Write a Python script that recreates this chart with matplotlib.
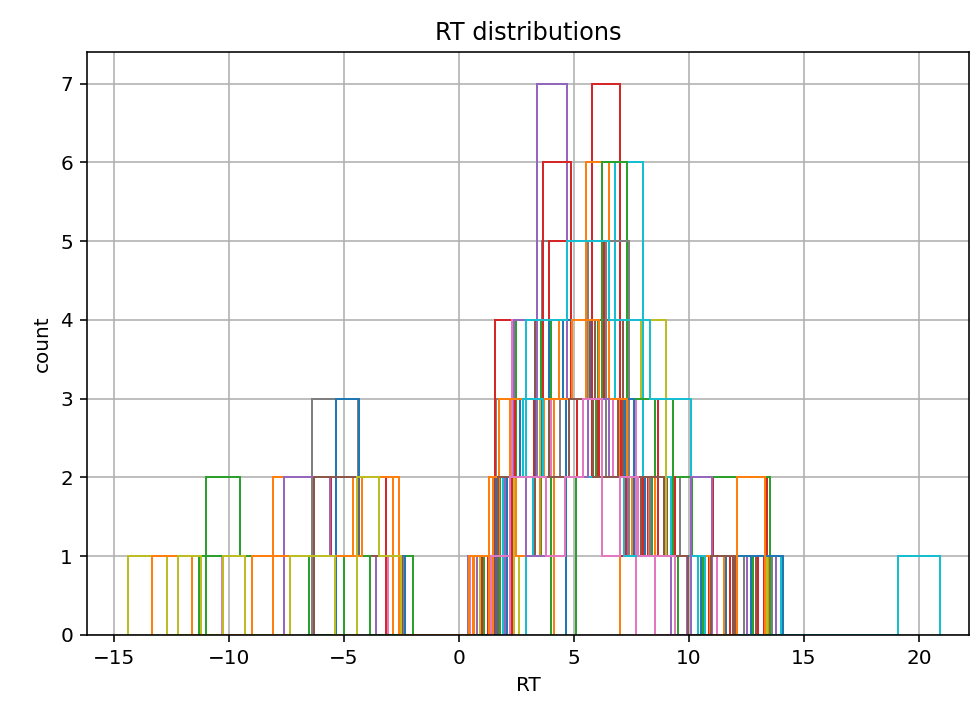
import matplotlib
matplotlib.use("Agg")
import matplotlib.pyplot as plt

# Per-series RT samples; each is drawn as a 10-bin step histogram
n01 = [-14.4, -10.5, -9.0, -6.5, -4.6, -3.0, 2.6]
n02 = [-13.35, -8.05, -7.0, -5.5, -3.9, -3.2, 1.9, 2.9, 3.4, 4.15]
n03 = [-11.0, -10.1, -8.9, -7.0, -4.2, -2.8, 2.2, 2.9, 3.3, 3.6, 4.0]
n04 = [-6.4, -5.8, -5.0, -3.1, 1.9, 2.5, 3.0, 3.8, 4.3, 4.7, 5.0, 5.4, 5.9, 6.4, 7.0, 8.1, 9.0, 10.2, 13.6]
n05 = [-10.3, -6.5, -5.0, -4.4, 2.0, 2.6, 3.1, 3.6, 4.3, 4.8, 5.2, 5.7, 6.1, 6.8, 7.4, 8.2, 9.5, 11.9, 13.4]
n06 = [-5.35, -5.0, -4.6, -3.9, -2.9, 1.8, 2.3, 2.8, 3.1, 3.4, 3.8, 4.1, 4.65]
n07 = [-10.3, -7.5, -5.6, -4.0, 1.9, 2.6, 3.0, 3.5, 3.9, 4.4, 4.8, 5.1, 5.5, 6.2, 6.9, 7.7]
n08 = [-7.6, -6.5, -4.5, 2.0, 2.6, 3.0, 3.4, 3.9, 4.6, 5.0, 5.5, 6.0, 6.7, 7.3, 9.0, 12.4]
n09 = [-6.3, -5.2, -3.5, 2.7, 3.6, 4.1, 4.6, 5.0, 5.4, 5.9, 6.4, 6.9, 7.6, 8.5, 10.1, 12.9]
n10 = [-11.3, -7.5, -5.0, 3.0, 3.8, 4.4, 4.9, 5.5, 6.4, 7.0, 7.8, 9.3, 10.5, 11.6, 13.5]
n11 = [-9.0, -6.9, -5.0, -3.8, -3.0, 1.3, 2.6, 3.1, 3.5, 4.2, 4.6, 5.0, 5.8, 6.4, 7.0]
n12 = [-12.2, -9.3, -7.2, -5.9, -4.4, -3.6, -2.5]
p01 = [1.0, 2.5, 3.1, 3.9, 4.3, 4.8, 5.2, 5.9, 6.0, 6.2, 6.4, 6.5, 6.7, 6.9, 7.5, 8.3, 9.0, 10.3, 11.4, 13.0]
p02 = [0.8, 2.4, 3.0, 3.5, 3.7, 3.9, 4.1, 4.3, 4.5, 4.6, 4.9, 5.4, 5.8, 6.3, 6.9, 7.7, 9.2, 13.8]
p03 = [2.0, 3.5, 4.0, 4.6, 5.0, 5.3, 5.8, 6.2, 6.5, 6.9, 7.1, 7.3, 7.5, 7.7, 7.9, 8.5, 9.0, 9.8, 14.0]
p04 = [1.25, 2.6, 3.0, 3.3, 3.7, 3.9, 4.1, 4.3, 4.5, 4.7, 5.0, 5.4, 5.8, 6.3, 6.8, 7.6, 9.0, 10.2, 13.25]
p05 = [1.5, 2.2, 2.8, 3.6, 3.9, 4.2, 4.6, 4.8, 5.1, 5.6, 5.8, 6.0, 6.1, 6.3, 6.4, 6.7, 7.2, 7.8, 8.9, 9.7, 11.5]
p06 = [1.8, 2.4, 3.0, 3.5, 4.1, 4.6, 5.0, 5.3, 5.7, 6.0, 6.3, 6.5, 6.7, 6.9, 7.1, 7.2, 7.5, 8.0, 8.8, 11.0, 12.8]
p07 = [2.4, 2.9, 3.6, 4.0, 4.5, 4.8, 5.2, 5.6, 6.0, 6.5, 6.7, 6.9, 7.1, 7.3, 7.8, 8.6, 9.5, 10.8, 12.4]
p08 = [1.7, 2.2, 3.0, 3.4, 3.95, 4.0, 4.4, 4.8, 5.05, 5.2, 5.4, 5.8, 6.2, 6.6, 6.9, 7.5, 8.1, 9.3, 10.0, 12.7]
p09 = [0.45, 2.0, 2.6, 2.9, 3.3, 3.8, 4.1, 4.5, 4.9, 5.2, 5.5, 5.8, 6.2, 6.6, 7.3, 7.9, 8.9, 10.1, 11.3, 13.45]
p10 = [2.4, 3.0, 3.6, 4.0, 4.4, 4.8, 5.2, 5.5, 5.9, 6.3, 6.6, 7.0, 7.4, 7.7, 8.0, 8.3, 8.6, 8.9, 9.5, 10.6, 11.8, 13.4]
p11 = [5.1, 5.5, 6.0, 6.4, 6.7, 6.9, 7.2, 7.5, 7.7, 8.0, 8.3, 8.6, 8.9, 9.2, 9.8, 10.5, 10.9, 11.4, 11.7, 12.0, 12.4, 13.0, 13.5]
p12 = [2.1, 2.8, 3.4, 3.8, 4.2, 4.6, 5.0, 5.3, 5.6, 5.9, 6.3, 6.7, 7.1, 7.6, 8.5, 9.9, 11.0, 12.3, 14.1]
p13 = [2.9, 3.5, 4.0, 4.3, 4.8, 5.0, 5.4, 5.9, 6.2, 6.6, 6.9, 7.3, 7.7, 8.5, 9.0, 9.8, 11.2, 20.9]
p14 = [1.9, 2.3, 3.1, 3.5, 4.0, 4.3, 4.7, 5.0, 5.3, 5.6, 5.8, 6.1, 6.5, 6.8, 7.2, 7.6, 8.4, 9.5, 10.7, 11.9]
p15 = [2.2, 2.6, 3.2, 3.6, 4.05, 4.3, 4.8, 5.0, 5.3, 5.7, 5.9, 6.2, 6.6, 7.0, 7.4, 7.8, 8.45, 9.6, 11.2]
p16 = [1.6, 2.1, 2.7, 3.2, 3.7, 4.0, 4.3, 4.7, 5.0, 5.4, 5.7, 6.0, 6.3, 6.65, 7.0, 7.4, 7.9, 8.7, 9.9, 11.6]
p17 = [2.3, 2.9, 3.4, 3.8, 4.1, 4.4, 4.8, 5.1, 5.5, 5.8, 6.1, 6.4, 6.9, 7.3, 7.8, 8.6, 9.4, 10.5, 11.8]
p18 = [1.3, 2.4, 2.9, 3.3, 3.9, 4.2, 4.6, 4.9, 5.3, 5.6, 6.0, 6.3, 6.8, 7.1, 7.5, 8.2, 9.1, 10.4, 12.1, 13.3]
p19 = [1.9, 2.5, 2.9, 3.3, 3.6, 4.0, 4.3, 4.7, 5.1, 5.5, 6.0, 6.5, 7.0, 7.6, 8.3, 9.3, 10.7]
p20 = [2.0, 2.7, 3.3, 3.9, 4.4, 4.9, 5.2, 5.6, 5.9, 6.2, 6.6, 7.0, 7.5, 8.1, 8.8, 10.2, 11.0]
p21 = [1.7, 2.4, 3.0, 3.7, 4.1, 4.5, 4.9, 5.4, 5.7, 6.1, 6.5, 6.9, 7.4, 8.0, 8.9, 9.8, 12.0]
p22 = [1.4, 2.3, 2.8, 3.2, 3.7, 4.2, 4.6, 5.0, 5.4, 5.8, 6.1, 6.5, 7.0, 7.3, 8.3, 9.4]

series = [n01, n02, n03, n04, n05, n06, n07, n08, n09, n10, n11, n12,
          p01, p02, p03, p04, p05, p06, p07, p08, p09, p10, p11, p12, p13, p14, p15,
          p16, p17, p18, p19, p20, p21, p22]

# line colours (style only), one per series
series_colors = ["C8", "C1", "C2", "C7", "C3", "C0", "C6", "C4", "C5", "C2", "C1", "C8",
                 "C3", "C4", "C9", "C3", "C1", "C2", "C7", "C0", "C1", "C8", "C2", "C0", "C9", "C5", "C6",
                 "C0", "C3", "C1", "C9", "C4", "C5", "C6"]

x_ticks = [-15, -10, -5, 0, 5, 10, 15, 20]
y_ticks = [0, 1, 2, 3, 4, 5, 6, 7]

fig = plt.figure(figsize=(970 / 144, 717 / 144), dpi=144)
ax = fig.add_axes([87 / 970, 1 - 635 / 717, (969 - 87) / 970, (635 - 52) / 717])

for s, c in zip(series, series_colors):
    ax.hist(s, bins=10, histtype="step", color=c)

ax.grid(True)
ax.set_xticks(x_ticks)
ax.set_yticks(y_ticks)
ax.set_xlim(-16.17, 22.17)
ax.set_ylim(0, 7.4)
ax.set_xlabel("RT")
ax.set_ylabel("count")
ax.set_title("RT distributions")

fig.savefig("out.png", dpi=144)
